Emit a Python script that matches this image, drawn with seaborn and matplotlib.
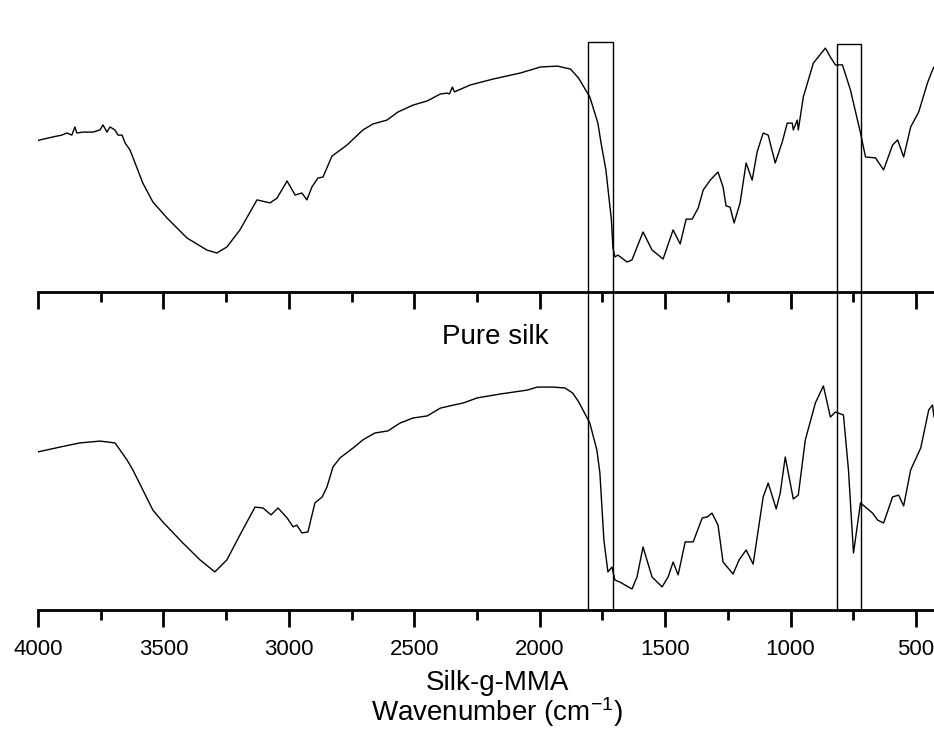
import matplotlib
matplotlib.use("Agg")
import matplotlib.pyplot as plt
import seaborn as sns
import pandas as pd
from matplotlib.patches import Rectangle
from matplotlib.transforms import blended_transform_factory
from matplotlib.ticker import MultipleLocator

# FTIR spectra (transmittance, arbitrary units) -----------------------------
wn_silk = [4000, 3992, 3940, 3905, 3885, 3865, 3853, 3845, 3821, 3781,
           3753, 3741, 3725, 3713, 3693, 3681, 3665, 3653, 3633, 3613,
           3582, 3542, 3486, 3406, 3327, 3287, 3247, 3195, 3127, 3075,
           3047, 3007, 2975, 2948, 2928, 2908, 2884, 2864, 2828, 2768,
           2705, 2665, 2609, 2565, 2505, 2448, 2396, 2368, 2360, 2348,
           2340, 2277, 2185, 2077, 1997, 1929, 1877, 1845, 1800, 1768,
           1756, 1736, 1714, 1708, 1700, 1688, 1652, 1632, 1588, 1552,
           1508, 1468, 1440, 1416, 1392, 1368, 1348, 1320, 1289, 1269,
           1257, 1241, 1225, 1201, 1177, 1153, 1133, 1109, 1089, 1061,
           1033, 1013, 993, 989, 973, 969, 949, 909, 861, 841,
           821, 793, 761, 721, 701, 661, 629, 593, 573, 549,
           521, 489, 454, 434, 428]
t_silk = [50.5, 50.7, 51.7, 52.3, 53.0, 52.3, 55.0, 53.0, 53.3, 53.3,
          54.0, 55.7, 53.3, 55.0, 54.0, 52.3, 52.3, 49.7, 47.3, 43.0,
          36.3, 30.0, 24.7, 18.0, 14.0, 13.0, 15.0, 20.7, 30.7, 29.7,
          31.3, 37.0, 32.3, 33.0, 30.7, 35.0, 38.0, 38.3, 45.3, 49.0,
          54.0, 56.0, 57.3, 60.0, 62.3, 63.7, 66.0, 66.3, 66.0, 68.3,
          66.7, 69.0, 71.0, 73.0, 75.0, 75.3, 74.3, 71.3, 65.0, 56.3,
          50.0, 40.7, 24.0, 14.7, 11.7, 12.3, 10.0, 10.7, 20.0, 14.0,
          11.0, 20.7, 16.0, 24.3, 24.3, 28.0, 34.0, 37.3, 40.0, 35.0,
          28.7, 28.3, 23.0, 29.7, 43.0, 37.3, 46.7, 53.0, 52.3, 43.0,
          50.0, 56.3, 56.3, 54.0, 57.3, 54.0, 65.0, 76.3, 81.3, 78.3,
          75.7, 75.7, 67.3, 53.0, 45.0, 44.7, 40.7, 49.0, 50.7, 45.0,
          55.0, 60.0, 69.7, 74.0, 75.0]

wn_mma = [4000, 3913, 3833, 3753, 3693, 3645, 3622, 3582, 3542, 3502,
          3422, 3354, 3295, 3247, 3195, 3135, 3103, 3071, 3043, 3007,
          2983, 2968, 2948, 2924, 2896, 2867, 2848, 2824, 2796, 2744,
          2705, 2657, 2605, 2557, 2505, 2448, 2396, 2344, 2305, 2249,
          2157, 2050, 2010, 1947, 1899, 1868, 1844, 1800, 1772, 1760,
          1744, 1728, 1712, 1700, 1680, 1632, 1612, 1588, 1552, 1512,
          1488, 1468, 1448, 1420, 1388, 1352, 1332, 1313, 1289, 1269,
          1229, 1205, 1177, 1149, 1109, 1089, 1057, 1041, 1021, 989,
          969, 941, 901, 869, 841, 821, 789, 769, 749, 721,
          673, 653, 629, 593, 569, 549, 521, 481, 449, 434,
          428]
t_mma = [52.7, 54.3, 55.7, 56.3, 55.7, 50.0, 46.7, 40.0, 33.3, 29.3,
         22.3, 16.7, 12.7, 16.7, 25.0, 34.3, 34.0, 31.7, 34.0, 30.7,
         27.7, 28.3, 25.7, 26.0, 35.7, 37.7, 41.0, 47.7, 50.7, 54.0,
         56.7, 59.0, 59.7, 62.3, 64.0, 64.7, 67.3, 68.3, 69.0, 70.7,
         72.0, 73.3, 74.3, 74.3, 74.0, 72.3, 69.3, 62.3, 53.3, 45.7,
         23.3, 12.7, 14.3, 10.0, 9.3, 7.0, 11.0, 21.0, 11.0, 7.7,
         11.0, 16.0, 11.7, 22.7, 22.7, 30.7, 31.0, 32.3, 28.3, 16.0,
         12.0, 16.7, 20.0, 15.3, 37.7, 42.3, 33.7, 39.0, 51.0, 37.0,
         38.3, 56.7, 69.0, 74.7, 64.3, 66.0, 65.0, 46.7, 19.0, 35.7,
         32.3, 30.0, 29.0, 37.7, 38.3, 34.7, 46.7, 54.0, 66.7, 68.3,
         64.3]

tick_values = [4000, 3500, 3000, 2500, 2000, 1500, 1000, 500]
tick_labels = [str(v) for v in tick_values]
highlight_bands = [(1806, 1708), (815, 720)]

panel_names = ["Pure silk", "Silk-g-MMA"]
x_title = "Wavenumber (cm$^{-1}$)"

# Styling --------------------------------------------------------------------
sns.set_theme(style="white")
plt.rcParams["font.family"] = ["Liberation Sans", "DejaVu Sans"]
plt.rcParams["mathtext.fontset"] = "custom"
plt.rcParams["mathtext.rm"] = "Liberation Sans"
plt.rcParams["mathtext.it"] = "Liberation Sans:italic"
plt.rcParams["mathtext.bf"] = "Liberation Sans:bold"
plt.rcParams["text.color"] = "black"
plt.rcParams["xtick.color"] = "black"
plt.rcParams["xtick.labelcolor"] = "black"

W, H = 934, 729
fig = plt.figure(figsize=(W / 100, H / 100), dpi=100)
left = 38 / W
ax_top = fig.add_axes([left, (H - 292) / H, 1 - left, 270 / H])
ax_bot = fig.add_axes([left, (H - 610) / H, 1 - left, 270 / H])

df_silk = pd.DataFrame({"wavenumber": wn_silk, "T": t_silk})
df_mma = pd.DataFrame({"wavenumber": wn_mma, "T": t_mma})

for ax, df in ((ax_top, df_silk), (ax_bot, df_mma)):
    sns.lineplot(data=df, x="wavenumber", y="T", ax=ax, color="black",
                 linewidth=1.0, estimator=None, sort=False)
    ax.set_xlim(4000, 428)
    ax.set_ylim(0, 90)
    sns.despine(ax=ax, left=True, top=True, right=True)
    ax.spines["bottom"].set_linewidth(2.0)
    ax.spines["bottom"].set_color("black")
    ax.set_yticks([])
    ax.set_xticks(tick_values)
    ax.xaxis.set_minor_locator(MultipleLocator(250))
    ax.tick_params(axis="x", which="major", bottom=True, length=12, width=2,
                   direction="out", color="black")
    ax.tick_params(axis="x", which="minor", bottom=True, length=7, width=2,
                   direction="out", color="black")
    ax.set_xlabel("")
    ax.set_ylabel("")
    ax.set_facecolor("white")

ax_top.tick_params(axis="x", labelbottom=False)
ax_bot.set_xticklabels(tick_labels, fontsize=16, color="black")
ax_bot.tick_params(axis="x", which="major", pad=9)

# Highlight boxes spanning both spectra
trans = blended_transform_factory(ax_bot.transData, fig.transFigure)
box_bottom = (H - 610) / H
box_tops = [(H - 42) / H, (H - 44) / H]
for (hi, lo), top in zip(highlight_bands, box_tops):
    fig.patches.append(Rectangle((hi, box_bottom), lo - hi, top - box_bottom,
                                 transform=trans, fill=False, edgecolor="black",
                                 linewidth=1.0))

fig.text(495 / W, 1 - 344 / H, panel_names[0], ha="center", va="baseline",
         fontsize=20, color="black")
fig.text(497 / W, 1 - 690 / H, panel_names[1], ha="center", va="baseline",
         fontsize=20, color="black")
fig.text(497 / W, 1 - 721 / H, x_title, ha="center", va="baseline",
         fontsize=20, color="black")

fig.savefig("out.png", dpi=100, facecolor="white")
